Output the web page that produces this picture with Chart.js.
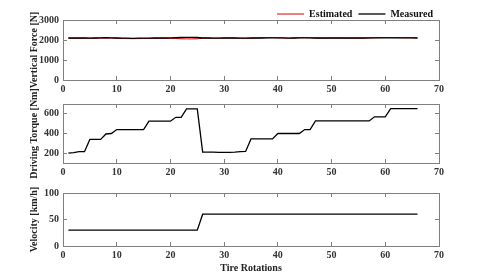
<!DOCTYPE html>
<html><head><meta charset="utf-8">
<script src="https://cdn.jsdelivr.net/npm/chart.js@4.4.1/dist/chart.umd.min.js"></script>
<style>
html,body{margin:0;padding:0;background:#fff;width:485px;height:277px;overflow:hidden;position:relative}
canvas{position:absolute;left:0}
</style></head><body>
<canvas id="c1" width="485" height="97" style="top:0px"></canvas>
<canvas id="c2" width="485" height="120" style="top:70px"></canvas>
<canvas id="c3" width="485" height="98" style="top:179px"></canvas>
<script>
const rotations = [1,2,3,4,5,6,7,8,9,10,11,12,13,14,15,16,17,18,19,20,21,22,23,24,25,26,27,28,29,30,31,32,33,34,35,36,37,38,39,40,41,42,43,44,45,46,47,48,49,50,51,52,53,54,55,56,57,58,59,60,61,62,63,64,65,66];
const forceMeasured = [2100,2100,2100,2100,2095,2100,2105,2115,2110,2100,
  2095,2090,2085,2090,2095,2095,2100,2100,2100,2105,
  2115,2125,2130,2130,2125,2100,2100,2095,2095,2100,
  2100,2100,2095,2095,2100,2100,2100,2105,2105,2110,
  2105,2095,2100,2110,2110,2105,2100,2100,2100,2100,
  2100,2100,2100,2100,2100,2100,2105,2110,2110,2110,
  2110,2110,2105,2105,2105,2100];
const forceEstimated = [2090,2085,2085,2090,2090,2090,2095,2100,2100,2090,
  2080,2070,2065,2070,2075,2080,2080,2085,2085,2080,
  2075,2060,2055,2055,2060,2090,2095,2090,2090,2095,
  2100,2095,2090,2085,2090,2100,2110,2115,2120,2110,
  2100,2090,2095,2115,2120,2110,2100,2095,2095,2100,
  2100,2100,2095,2095,2095,2090,2100,2110,2120,2125,
  2125,2120,2115,2110,2110,2105];
const torque = [200,205,215,215,340,340,340,395,400,440,
  440,440,440,440,440,525,525,525,525,525,
  565,565,650,650,650,210,210,210,208,208,
  208,210,215,218,345,345,345,345,345,400,
  400,400,400,400,440,440,528,528,528,528,
  528,528,528,528,528,528,528,570,570,570,
  652,652,652,652,652,652];
const velocity = [30,30,30,30,30,30,30,30,30,30,
  30,30,30,30,30,30,30,30,30,30,
  30,30,30,30,30,60,60,60,60,60,
  60,60,60,60,60,60,60,60,60,60,
  60,60,60,60,60,60,60,60,60,60,
  60,60,60,60,60,60,60,60,60,60,
  60,60,60,60,60,60];
const xTicks = [0,10,20,30,40,50,60,70];
const forceTicks = [0,1000,2000,3000];
const torqueTicks = [200,400,600];
const velocityTicks = [0,50,100];

// trim the legend block height so the legend sits just above the plot
const LegendEl = Chart.registry.getPlugin('legend')._element;
const origFit = LegendEl.prototype.fit;
LegendEl.prototype.fit = function(){
  origFit.call(this);
  if (this.options.display) this.height = Math.max(0, this.height - 9);
};

Chart.defaults.font.family = "'Liberation Serif','Times New Roman',serif";
Chart.defaults.font.weight = 'bold';
Chart.defaults.font.size = 10;
Chart.defaults.color = '#222';

const frame = '#808080';
function pts(ys){ return rotations.map((x,i)=>({x:x,y:ys[i]})); }
function setTicks(arr){ return s => { s.ticks = arr.map(v=>({value:v})); }; }
const plain = v => String(v);

function scales(yMin,yMax,yT,yTitle,xTitle){
  const grid = {display:true, drawOnChartArea:false, drawTicks:true, tickLength:-4, color:frame, lineWidth:1};
  const border = {display:true, color:frame, width:1};
  return {
    x:{type:'linear',position:'bottom',min:0,max:70,afterBuildTicks:setTicks(xTicks),
       grid:grid,border:border,
       ticks:{padding:7,color:'#333',font:{size:10,weight:'bold'},callback:plain},
       title: xTitle ? {display:true,text:xTitle,color:'#222',font:{size:10,weight:'bold'},padding:{top:0,bottom:3}} : {display:false},
       afterFit: s => { s.height = xTitle ? 31 : 17; }},
    x2:{type:'linear',position:'top',min:0,max:70,afterBuildTicks:setTicks(xTicks),
       grid:grid,border:border,ticks:{display:false},
       afterFit: s => { s.height = 0; }},
    y:{type:'linear',position:'left',min:yMin,max:yMax,afterBuildTicks:setTicks(yT),
       grid:grid,border:border,
       ticks:{padding:8,color:'#333',font:{size:10,weight:'bold'},callback:plain},
       title:{display:true,text:yTitle,color:'#222',font:{size:10,weight:'bold'},padding:{top:28,bottom:0}},
       afterFit: s => { s.width = 63; }},
    y2:{type:'linear',position:'right',min:yMin,max:yMax,afterBuildTicks:setTicks(yT),
       grid:grid,border:border,ticks:{display:false},
       afterFit: s => { s.width = 10; }}
  };
}

function opts(sc, pad, legend){
  return {
    responsive:false, animation:false, devicePixelRatio:1,
    layout:{padding:pad},
    elements:{point:{radius:0},line:{tension:0}},
    plugins:{
      tooltip:{enabled:false},
      legend: legend || {display:false}
    },
    scales: sc
  };
}

new Chart(document.getElementById('c1'), {
  type:'line',
  data:{datasets:[
    {label:'Measured', data:pts(forceMeasured), borderColor:'#000', borderWidth:1.3},
    {label:'Estimated', data:pts(forceEstimated), borderColor:'#e00000', borderWidth:1}
  ]},
  options: opts(scales(0,3000,forceTicks,'Vertical Force [N]'), {top:3,left:0,right:36,bottom:0},
    {display:true, position:'top', align:'end', fullSize:false,
     labels:{usePointStyle:true, pointStyle:'line', pointStyleWidth:27, padding:6,
       color:'#111', font:{size:10,weight:'bold'},
       sort:(a,b)=>b.datasetIndex-a.datasetIndex}})
});

new Chart(document.getElementById('c2'), {
  type:'line',
  data:{datasets:[
    {label:'Driving Torque', data:pts(torque), borderColor:'#000', borderWidth:1.3}
  ]},
  options: opts(scales(100,700,torqueTicks,'Driving Torque [Nm]'), {top:34,left:0,right:36,bottom:10})
});

new Chart(document.getElementById('c3'), {
  type:'line',
  data:{datasets:[
    {label:'Velocity', data:pts(velocity), borderColor:'#000', borderWidth:1.3}
  ]},
  options: opts(scales(0,100,velocityTicks,'Velocity [km/h]','Tire Rotations'), {top:7,left:0,right:36,bottom:0})
});
</script>
</body></html>
